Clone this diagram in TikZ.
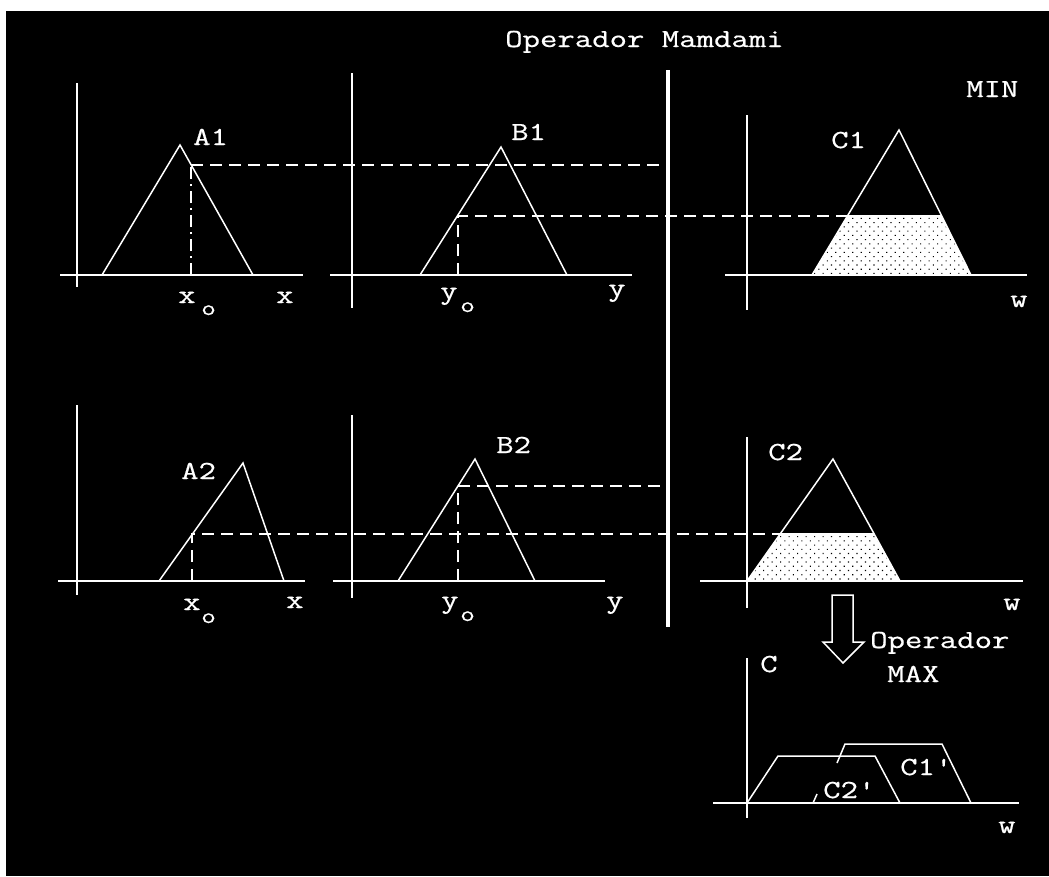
\documentclass[tikz,border=0pt]{standalone}
\usepackage{fontspec}
\newfontfamily\lblfont[FakeStretch=1.3,FakeBold=0.6]{Latin Modern Mono}
\usetikzlibrary{patterns.meta}
\begin{document}
\begin{tikzpicture}[x=1pt,y=-1pt,
  ln/.style={white,line width=1.5pt,line join=miter},
  axis/.style={white,line width=1.5pt},
  dsh/.style={white,line width=1.5pt,dash pattern=on 12pt off 7pt},
  dshdot/.style={white,line width=1.5pt,dash pattern=on 12pt off 5pt on 2pt off 5pt},
  lbl/.style={text=white,font=\lblfont\fontsize{26}{26}\selectfont,inner sep=0pt,anchor=base west},
  sub/.style={text=white,font=\lblfont\fontsize{22}{22}\selectfont,inner sep=0pt,anchor=base west},
  shadefill/.style={fill=white,postaction={pattern={Dots[distance=6pt,radius=0.8pt,angle=45]},pattern color=black}},
  bar/.style={white,line width=4.5pt}
]
\useasboundingbox (0,0) rectangle (1049,876);
\fill[white] (0,0) rectangle (1049,876);
\fill[black] (6,11) rectangle (1049,876);

% shaded clipped areas
\path[shadefill] (812,275) -- (847.5,216) -- (941.5,216) -- (971,275) -- cycle;
\path[shadefill] (747,581) -- (780,534) -- (874,534) -- (900,581) -- cycle;

% axes
\draw[axis] (77,83) -- (77,287);   \draw[axis] (60,275) -- (303,275);
\draw[axis] (352,73) -- (352,308); \draw[axis] (330,275) -- (632,275);
\draw[axis] (747,115) -- (747,310); \draw[axis] (725,275) -- (1027,275);
\draw[axis] (77,405) -- (77,595);  \draw[axis] (58,581) -- (305,581);
\draw[axis] (352,415) -- (352,598); \draw[axis] (333,581) -- (605,581);
\draw[axis] (747,437) -- (747,608); \draw[axis] (700,581) -- (1023,581);
\draw[axis] (747,658) -- (747,818); \draw[axis] (713,803) -- (1019,803);

% membership functions
\draw[ln] (102,275) -- (180,145) -- (253,275);
\draw[ln] (420,275) -- (501,147) -- (567,275);
\draw[ln] (812,275) -- (899,130) -- (971,275);
\draw[ln] (159,581) -- (243,463) -- (284,581);
\draw[ln] (398,581) -- (475,459) -- (535,581);
\draw[ln] (747,581) -- (833,459) -- (900,581);
\draw[ln] (847.5,216) -- (941.5,216);
\draw[ln] (780,534) -- (874,534);

% projection lines
\draw[dshdot] (191,275) -- (191,165);
\draw[dsh] (191,165) -- (668,165);
\draw[dsh] (458,275) -- (458,216) -- (847.5,216);
\draw[dsh] (192,581) -- (192,534) -- (780,534);
\draw[dsh] (458,581) -- (458,486) -- (668,486);

% separator bar
\draw[bar] (668,70) -- (668,627);

% aggregated result
\draw[ln] (747,803) -- (778,756) -- (875,756) -- (900,803);
\draw[ln] (837,763) -- (845,744) -- (942,744) -- (971,803);
\draw[ln] (813,803) -- (817,794);

% hollow arrow
\draw[white,line width=1.5pt,line join=miter] (832,595) -- (853,595) -- (853,642) -- (864,642) -- (843,663) -- (823,642) -- (832,642) -- cycle;

% labels
\node[lbl] (title) at (505,47) {Operador Mamdami};
\node[lbl] (min) at (966,97) {MIN};
\node[lbl] (a1) at (193,145) {A1};
\node[lbl] (b1) at (511,140) {B1};
\node[lbl] (c1) at (831,148) {C1};
\node[lbl] (x1) at (178,303) {x};
\node[sub] (o1) at (201,315) {o};
\node[lbl] (xa1) at (276,303) {x};
\node[lbl] (y1) at (440,299) {y};
\node[sub] (o2) at (460,312) {o};
\node[lbl] (yb1) at (608,296) {y};
\node[lbl] (w1) at (1010,307) {w};

\node[lbl] (a2) at (181,479) {A2};
\node[lbl] (b2) at (496,453) {B2};
\node[lbl] (c2) at (768,460) {C2};
\node[lbl] (x2) at (183,610) {x};
\node[sub] (o3) at (201,623) {o};
\node[lbl] (xa2) at (286,608) {x};
\node[lbl] (y2) at (441,608) {y};
\node[sub] (o4) at (460,621) {o};
\node[lbl] (yb2) at (606,608) {y};
\node[lbl] (w2) at (1003,610) {w};

\node[lbl] (opmax) at (870,648) {Operador};
\node[lbl] (max) at (887,682) {MAX};
\node[lbl] (c) at (760,672) {C};
\node[lbl] (c1p) at (900,775) {C1'};
\node[lbl] (c2p) at (823,798) {C2'};
\node[lbl] (w3) at (998,833) {w};
\end{tikzpicture}
\end{document}
